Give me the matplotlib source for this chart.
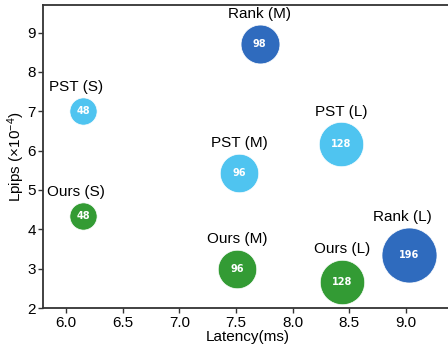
import matplotlib
matplotlib.use("Agg")
import matplotlib.pyplot as plt
from matplotlib import font_manager as fm

plt.rcParams['font.family'] = ['Liberation Sans', 'DejaVu Sans']
plt.rcParams['mathtext.fontset'] = 'custom'
plt.rcParams['mathtext.rm'] = 'Liberation Sans'
plt.rcParams['mathtext.it'] = 'Liberation Sans:italic'
plt.rcParams['mathtext.bf'] = 'Liberation Sans:bold'

names = ["PST (S)", "PST (M)", "PST (L)", "Rank (M)", "Rank (L)", "Ours (S)", "Ours (M)", "Ours (L)"]
latency = [6.15, 7.53, 8.43, 7.71, 9.03, 6.15, 7.51, 8.44]
lpips = [7.0, 5.43, 6.16, 8.72, 3.35, 4.33, 3.0, 2.66]
counts = [48, 96, 128, 98, 196, 48, 96, 128]
groups = ["PST", "PST", "PST", "Rank", "Rank", "Ours", "Ours", "Ours"]
xticks = [6.0, 6.5, 7.0, 7.5, 8.0, 8.5, 9.0]
yticks = [2, 3, 4, 5, 6, 7, 8, 9]

colors = {"PST": "#4FC4F0", "Rank": "#2F6BBE", "Ours": "#339B34"}
label_dx = {"PST (S)": -5, "Ours (S)": -5, "Rank (L)": -5}

bold_fp = fm.FontProperties(family='DejaVu Sans', weight='bold', size=7)

fig = plt.figure(figsize=(4.48, 3.45), dpi=100)
ax = fig.add_axes([43.3/448, 1-308/345, 408/448, 303/345])

scale = 8.0
for n, x, y, c, g in zip(names, latency, lpips, counts, groups):
    s = c * scale
    ax.scatter([x], [y], s=s, color=colors[g], edgecolors='white', linewidths=0.5, zorder=3)
    ax.text(x, y, str(c), ha='center', va='center', color='white',
            fontproperties=bold_fp, zorder=4)
    r_pt = (s ** 0.5) / 2
    ax.annotate(n, (x, y), xytext=(label_dx.get(n, 0), r_pt + 7.5), textcoords='offset points',
                ha='center', va='center', fontsize=11, color='black')

ax.set_xlim(5.8, 9.4)
ax.set_ylim(2, 9.7)
ax.set_xticks(xticks)
ax.set_yticks(yticks)
ax.set_xticklabels([f"{t:.1f}" for t in xticks])
ax.set_yticklabels([str(t) for t in yticks])
ax.tick_params(labelsize=11, width=1.0, length=3.5, color='#333333', pad=2)
for sp in ax.spines.values():
    sp.set_color('#333333')
    sp.set_linewidth(1.3)
ax.set_xlabel("Latency(ms)", fontsize=11, labelpad=0)
ax.set_ylabel(r"Lpips ($\times10^{-4}$)", fontsize=11, labelpad=0)

fig.savefig("out.png", dpi=100)
